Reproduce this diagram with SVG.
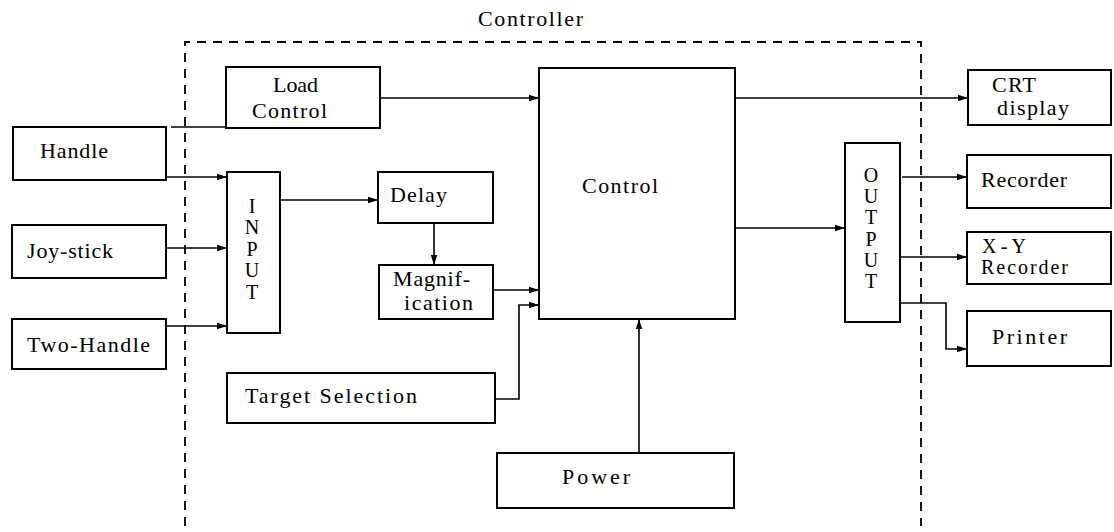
<svg xmlns="http://www.w3.org/2000/svg" width="1114" height="532" viewBox="0 0 1114 532">
<defs>
<marker id="arr" markerUnits="userSpaceOnUse" markerWidth="10" markerHeight="8" refX="10" refY="4" orient="auto"><path d="M0,0.8 L10,4 L0,7.2 Z" fill="#000"/></marker>
</defs>
<style>
.box{fill:#fff;stroke:#000;stroke-width:2}
.t{font-family:"Liberation Serif","Times New Roman",serif;font-size:22px;fill:#000}
.s{font-size:20px}
.v{font-family:"Liberation Serif","Times New Roman",serif;font-size:20px;fill:#000;text-anchor:middle}
.c{fill:none;stroke:#000;stroke-width:1.6}
.a{marker-end:url(#arr)}
.dash{fill:none;stroke:#000;stroke-width:1.8;stroke-dasharray:9 7}
</style>
<rect width="1114" height="532" fill="#fff"/>
<g id="controller">
<path class="dash" d="M185,526 V42 H921 V526"/>
<text class="t" x="478" y="26" textLength="105" lengthAdjust="spacing">Controller</text>
</g>
<g id="connectors">
<path class="c" d="M171,127 H226"/>
<path class="c a" d="M166,177 H227"/>
<path class="c a" d="M166,248 H227"/>
<path class="c a" d="M166,326 H227"/>
<path class="c a" d="M380,98 H539"/>
<path class="c a" d="M280,200 H378"/>
<path class="c a" d="M434,223 V265"/>
<path class="c a" d="M493,290 H539"/>
<path class="c a" d="M495,399 H519 V305 H539"/>
<path class="c a" d="M639,453 V319"/>
<path class="c a" d="M735,98 H968"/>
<path class="c a" d="M735,228 H845"/>
<path class="c a" d="M902,177 H967"/>
<path class="c a" d="M900,257 H967"/>
<path class="c a" d="M900,303 H946 V349 H967"/>
</g>
<g id="load-control">
<rect class="box" x="226" y="67" width="154" height="61"/>
<text class="t" x="273" y="92" textLength="45" lengthAdjust="spacing">Load</text>
<text class="t" x="252" y="118" textLength="75" lengthAdjust="spacing">Control</text>
</g>
<g id="handle">
<rect class="box" x="13" y="127" width="153" height="53"/>
<text class="t" x="40" y="158" textLength="68" lengthAdjust="spacing">Handle</text>
</g>
<g id="joy-stick">
<rect class="box" x="12" y="225" width="154" height="53"/>
<text class="t" x="27" y="258" textLength="86" lengthAdjust="spacing">Joy-stick</text>
</g>
<g id="two-handle">
<rect class="box" x="12" y="319" width="154" height="50"/>
<text class="t" x="27" y="352" textLength="123" lengthAdjust="spacing">Two-Handle</text>
</g>
<g id="input">
<rect class="box" x="227" y="172" width="53" height="161"/>
<text class="v" x="252" y="213">I</text>
<text class="v" x="252" y="234">N</text>
<text class="v" x="252" y="256">P</text>
<text class="v" x="252" y="277">U</text>
<text class="v" x="252" y="299">T</text>
</g>
<g id="delay">
<rect class="box" x="378" y="172" width="115" height="51"/>
<text class="t" x="390" y="202" textLength="57" lengthAdjust="spacing">Delay</text>
</g>
<g id="magnification">
<rect class="box" x="379" y="265" width="114" height="54"/>
<text class="t" x="393" y="286" textLength="77" lengthAdjust="spacing">Magnif-</text>
<text class="t" x="404" y="310" textLength="69" lengthAdjust="spacing">ication</text>
</g>
<g id="target-selection">
<rect class="box" x="227" y="373" width="268" height="50"/>
<text class="t" x="245" y="403" textLength="172" lengthAdjust="spacing">Target Selection</text>
</g>
<g id="control">
<rect class="box" x="539" y="68" width="196" height="251"/>
<text class="t" x="582" y="193" textLength="76" lengthAdjust="spacing">Control</text>
</g>
<g id="power">
<rect class="box" x="497" y="453" width="237" height="55"/>
<text class="t" x="562" y="484" textLength="68" lengthAdjust="spacing">Power</text>
</g>
<g id="output">
<rect class="box" x="845" y="143" width="55" height="179"/>
<text class="v" x="871" y="182">O</text>
<text class="v" x="871" y="203">U</text>
<text class="v" x="871" y="224">T</text>
<text class="v" x="871" y="246">P</text>
<text class="v" x="871" y="267">U</text>
<text class="v" x="871" y="288">T</text>
</g>
<g id="crt-display">
<rect class="box" x="968" y="70" width="143" height="55"/>
<text class="t" x="992" y="92" textLength="44" lengthAdjust="spacing">CRT</text>
<text class="t" x="997" y="115" textLength="72" lengthAdjust="spacing">display</text>
</g>
<g id="recorder">
<rect class="box" x="967" y="155" width="144" height="53"/>
<text class="t" x="981" y="187" textLength="86" lengthAdjust="spacing">Recorder</text>
</g>
<g id="xy-recorder">
<rect class="box" x="967" y="232" width="144" height="52"/>
<text class="t s" x="982" y="253" textLength="44" lengthAdjust="spacing">X-Y</text>
<text class="t s" x="981" y="274" textLength="87" lengthAdjust="spacing">Recorder</text>
</g>
<g id="printer">
<rect class="box" x="967" y="311" width="144" height="55"/>
<text class="t" x="992" y="344" textLength="75" lengthAdjust="spacing">Printer</text>
</g>
</svg>
